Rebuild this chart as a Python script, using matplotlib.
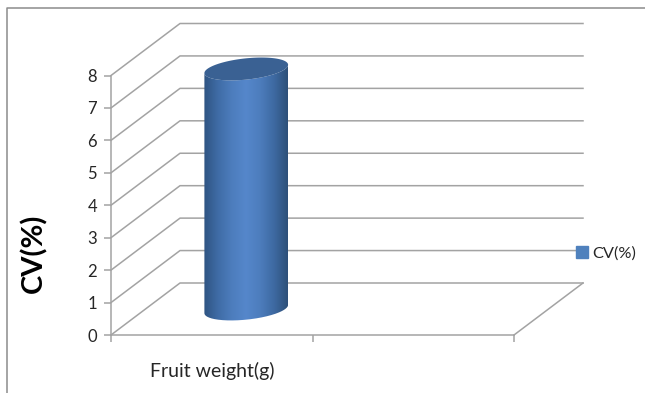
#!/usr/bin/env python3
"""
Cylinder column chart of CV(%) with a sheared 3D wall and floor.
Saves out.png
"""

import numpy as np
import matplotlib
matplotlib.use("Agg")
import matplotlib.pyplot as plt
from matplotlib.colors import LinearSegmentedColormap
from matplotlib.lines import Line2D
from matplotlib.patches import Patch, PathPatch
from matplotlib.path import Path

categories = ["Fruit weight(g)"]
cv_values = [7.4]
y_ticks = [0, 1, 2, 3, 4, 5, 6, 7, 8]
x_ticks = [0, 1, 2]

W, H = 645, 393
GRID = "#a3a3a3"
TEXT = "#262626"

plt.rcParams["font.family"] = ["Lato", "DejaVu Sans"]

fig = plt.figure(figsize=(W / 100, H / 100), dpi=100, facecolor="white")
ax = fig.add_axes([111 / W, (H - 335) / H, 403 / W, 259.5 / H])
ax.set_xlim(0, 2)
ax.set_ylim(0, 8)
ax.patch.set_visible(False)

# depth of the box, in data units (69 px right and 52 px up at full depth)
DEPTH_X = 69 / (403 / 2)
DEPTH_Y = 52 / (259.5 / 8)


def project(x, y, depth):
    return x + depth * DEPTH_X, y + depth * DEPTH_Y


# ── Walls ─────────────────────────────────────────────────────────────────────

for v in y_ticks:
    xs, ys = project(np.array([0, 0, 2]), v, np.array([0, 1, 1]))
    ax.plot(xs, ys, color=GRID, lw=1.1, clip_on=False, zorder=1)

xs, ys = project(np.array([2, 2]), 0, np.array([0, 1]))
ax.plot(xs, ys, color=GRID, lw=1.1, clip_on=False, zorder=1)

for side in ["top", "right"]:
    ax.spines[side].set_visible(False)
for side in ["left", "bottom"]:
    ax.spines[side].set_color(GRID)
    ax.spines[side].set_linewidth(1.1)

ax.set_yticks(y_ticks)
ax.set_xticks(x_ticks)
ax.set_xticklabels([])
ax.tick_params(axis="both", color=GRID, width=1.1, length=5, pad=5)
ax.tick_params(axis="y", labelsize=12, labelcolor=TEXT)

# ── Cylinder ──────────────────────────────────────────────────────────────────

RADIUS_X = 39 / (403 / 2)
RADIUS_DEPTH = 0.22
t = np.linspace(0, 2 * np.pi, 241)


def rim(x_center, value, angle):
    return project(x_center + RADIUS_X * np.cos(angle), value,
                   0.5 + RADIUS_DEPTH * np.sin(angle))


cmap = LinearSegmentedColormap.from_list(
    "cyl", ["#2f5482", "#3f6ca6", "#4d7dbd", "#5587cb", "#4d7dbd", "#3e6aa2", "#2e5079"])

for i, val in enumerate(cv_values):
    xc = i + 0.5
    rx, ry = rim(xc, 0, t)
    left, right = t[np.argmin(rx)], t[np.argmax(rx)]
    # silhouette: front half of the base (smaller depth), then up and over the top rim
    front = np.linspace(left, right + 2 * np.pi, 120)
    bx, by = rim(xc, 0, front)
    tx, ty = rim(xc, val, front[::-1])
    body = Path(np.column_stack([np.r_[bx, tx], np.r_[by, ty]]))
    lo, hi = rx.min(), rx.max()
    # extent runs past the axis limits so the rim's raised side keeps its shading
    im = ax.imshow(np.linspace(0, 1, 256)[None, :], cmap=cmap, aspect="auto",
                   extent=[lo, hi, -1, 10], zorder=3)
    im.set_clip_box(fig.bbox)
    im.set_clip_path(PathPatch(body, transform=ax.transData))
    top_x, top_y = rim(xc, val, t)
    ax.fill(top_x, top_y, color="#3a6193", lw=0, zorder=4, clip_on=False)

ax.set_xlim(0, 2)
ax.set_ylim(0, 8)

# ── Labels ────────────────────────────────────────────────────────────────────

ax.text(0.5, -1.1, categories[0], fontsize=14, color=TEXT, ha="center", va="center")
fig.text(34 / W, 1 - 253 / H, "CV(%)", rotation=90, fontsize=21, fontweight="bold",
         color="black", ha="center", va="center")

ax.legend(handles=[Patch(color="#4f81bd", label="CV(%)")], loc="center left",
          bbox_to_anchor=(576 / W, 1 - 253 / H), bbox_transform=fig.transFigure,
          frameon=False, fontsize=11.8, labelcolor=TEXT, handlelength=0.75,
          handleheight=0.75, handletextpad=0.25, borderpad=0, borderaxespad=0)

# outer chart frame, cut off by the top and left of the figure
fig.add_artist(Line2D([7 / W, 7 / W, 1], [0, 1 - 8 / H, 1 - 8 / H], color="#8c8c8c", lw=1.1))

fig.savefig("out.png", dpi=100)
plt.close(fig)
